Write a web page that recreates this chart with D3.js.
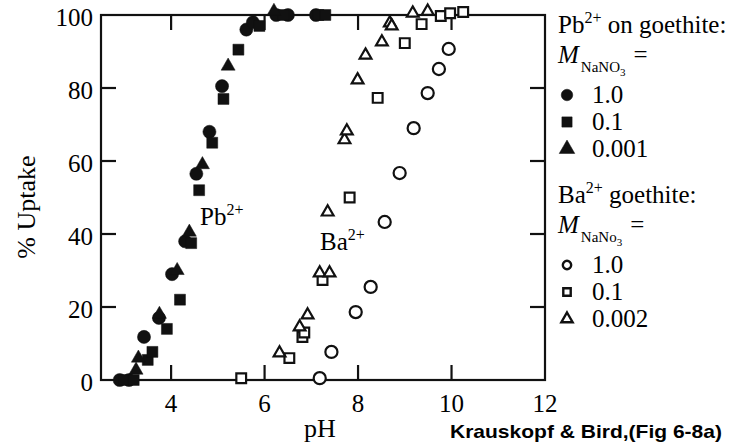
<!DOCTYPE html>
<html>
<head>
<meta charset="utf-8">
<script src="https://cdn.jsdelivr.net/npm/d3@7"></script>
<style>
  body { margin: 0; background: #fff; }
  svg text { font-family: "Liberation Serif", "Times New Roman", serif; fill: #000; }
</style>
</head>
<body>
<script>
// data: [pH, % uptake]
const pbHigh = [[2.9,0],[3.1,0],[3.42,11.8],[3.74,17],[4.02,29],[4.3,38],[4.54,56.5],[4.82,68],[5.09,80.5],[5.61,96],[5.75,98],[6.25,100],[6.5,100],[7.1,100]];
const pbMid  = [[3.0,0],[3.2,0],[3.5,5.5],[3.6,7.7],[3.91,14],[4.19,22],[4.43,37.5],[4.6,52],[4.88,65],[5.12,77],[5.44,90.5],[5.89,97],[6.4,100],[7.15,100],[7.3,100]];
const pbLow  = [[3.25,2.7],[3.3,6],[3.75,18],[4.13,30],[4.39,40.5],[4.67,59],[5.22,86],[6.2,101]];
const baHigh = [[7.18,0.5],[7.43,7.7],[7.95,18.6],[8.27,25.5],[8.57,43.3],[8.89,56.7],[9.19,69],[9.49,78.6],[9.73,85.2],[9.94,90.7]];
const baMid  = [[5.5,0.5],[6.53,6],[6.81,11.8],[6.85,13],[7.24,27.4],[7.82,50],[8.42,77.3],[9.0,92.3],[9.36,97.5],[9.77,99.7],[9.97,100.5],[10.25,100.8]];
const baLow  = [[6.32,7.4],[6.75,14.5],[6.92,17.8],[7.18,29.3],[7.39,29.3],[7.35,46],[7.71,65.8],[7.76,68.2],[7.99,82.2],[8.16,89],[8.51,92.6],[8.68,97.8],[8.72,97],[9.17,100.5],[9.49,101]];

const xTicks = [4, 6, 8, 10, 12];
const yTicks = [0, 20, 40, 60, 80, 100];
const pbLegend = ["1.0", "0.1", "0.001"];
const baLegend = ["1.0", "0.1", "0.002"];

const W = 732, H = 448;
const svg = d3.select("body").append("svg").attr("width", W).attr("height", H);

const x = d3.scaleLinear().domain([2.5, 12]).range([101, 545]);
const y = d3.scaleLinear().domain([0, 100]).range([380, 15]);
const tick = 15;

// frame
svg.append("rect")
  .attr("x", x(2.5)).attr("y", y(100))
  .attr("width", x(12) - x(2.5)).attr("height", y(0) - y(100))
  .attr("fill", "none").attr("stroke", "#111").attr("stroke-width", 2.2);

// inward ticks on all four sides
const g = svg.append("g").attr("stroke", "#111").attr("stroke-width", 2.2);
[4, 6, 8, 10].forEach(v => {
  g.append("line").attr("x1", x(v)).attr("x2", x(v)).attr("y1", y(0)).attr("y2", y(0) - tick);
  g.append("line").attr("x1", x(v)).attr("x2", x(v)).attr("y1", y(100)).attr("y2", y(100) + tick);
});
[20, 40, 60, 80].forEach(v => {
  g.append("line").attr("x1", x(2.5)).attr("x2", x(2.5) + tick).attr("y1", y(v)).attr("y2", y(v));
  g.append("line").attr("x1", x(12)).attr("x2", x(12) - tick).attr("y1", y(v)).attr("y2", y(v));
});

// tick labels
svg.selectAll(".yl").data(yTicks).join("text")
  .attr("x", 93).attr("y", d => y(d) + 11)
  .attr("text-anchor", "end").attr("font-size", 25).text(d => d);
svg.selectAll(".xl").data(xTicks).join("text")
  .attr("x", d => x(d)).attr("y", 412)
  .attr("text-anchor", "middle").attr("font-size", 25).text(d => d);

// axis titles
svg.append("text").attr("transform", "translate(35,207) rotate(-90)")
  .attr("text-anchor", "middle").attr("font-size", 26).text("% Uptake");
svg.append("text").attr("x", 320).attr("y", 437)
  .attr("text-anchor", "middle").attr("font-size", 26).text("pH");

// markers
function sym(type, size) { return d3.symbol().type(type).size(size)(); }
function plot(data, type, size, filled) {
  svg.append("g").selectAll("path").data(data).join("path")
    .attr("transform", d => `translate(${x(d[0])},${y(d[1])})`)
    .attr("d", sym(type, size))
    .attr("fill", filled ? "#111" : "#fff")
    .attr("stroke", "#111")
    .attr("stroke-width", filled ? 0.5 : 2.2);
}
plot(baHigh, d3.symbolCircle, 115, false);
plot(baMid, d3.symbolSquare, 95, false);
plot(baLow, d3.symbolTriangle, 60, false);
plot(pbHigh, d3.symbolCircle, 135, true);
plot(pbMid, d3.symbolSquare, 120, true);
plot(pbLow, d3.symbolTriangle, 85, true);

// in-plot labels
function ionLabel(px, py, base) {
  const t = svg.append("text").attr("x", px).attr("y", py).attr("font-size", 25);
  t.append("tspan").text(base);
  t.append("tspan").attr("dy", -10).attr("font-size", 16).text("2+");
}
ionLabel(200, 225, "Pb");
ionLabel(320, 250, "Ba");

// legend
function legendBlock(top, title, sub, labels, types, filled) {
  const t = svg.append("text").attr("x", 558).attr("y", top).attr("font-size", 25);
  t.append("tspan").text(title[0]);
  t.append("tspan").attr("dy", -10).attr("font-size", 16).text("2+");
  t.append("tspan").attr("dy", 10).text(title[1]);
  const m = svg.append("text").attr("x", 558).attr("y", top + 30).attr("font-size", 25);
  m.append("tspan").attr("font-style", "italic").text("M");
  m.append("tspan").attr("dx", 2).attr("dy", 9).attr("font-size", 15).text(sub[0]);
  m.append("tspan").attr("dy", 4).attr("font-size", 11).text("3");
  m.append("tspan").attr("dx", 8).attr("dy", -13).text("=");
  labels.forEach((l, i) => {
    const yy = top + 70 + i * 27;
    svg.append("path")
      .attr("transform", `translate(567,${yy - 8})`)
      .attr("d", sym(types[i], filled ? 105 : 55))
      .attr("fill", filled ? "#111" : "#fff")
      .attr("stroke", "#111").attr("stroke-width", filled ? 0.5 : 2.4);
    svg.append("text").attr("x", 592).attr("y", yy).attr("font-size", 25).text(l);
  });
}
const shapes = [d3.symbolCircle, d3.symbolSquare, d3.symbolTriangle];
legendBlock(33, ["Pb", " on goethite:"], ["NaNO"], pbLegend, shapes, true);
legendBlock(203, ["Ba", " goethite:"], ["NaNo"], baLegend, shapes, false);

// credit
svg.append("text").attr("x", 450).attr("y", 438)
  .attr("font-size", 19).attr("font-weight", "bold")
  .style("font-family", "'Liberation Sans Narrow', 'Liberation Sans', Arial, sans-serif")
  .attr("textLength", 272).attr("lengthAdjust", "spacingAndGlyphs")
  .text("Krauskopf & Bird,(Fig 6-8a)");
</script>
</body>
</html>
